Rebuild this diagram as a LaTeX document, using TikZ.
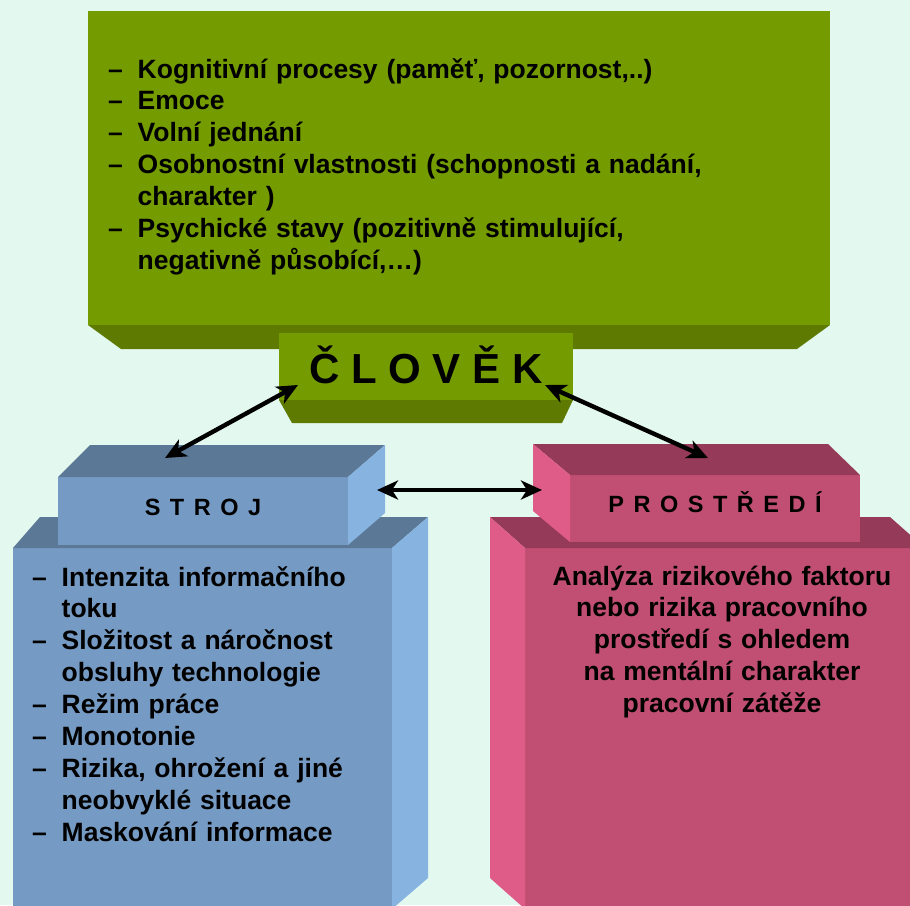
\documentclass[tikz,border=0pt]{standalone}
\usepackage{fontspec}
\setmainfont{Liberation Sans}
\usetikzlibrary{arrows.meta,calc}
\definecolor{bg}{HTML}{E3F8EF}
\definecolor{olivefront}{HTML}{749C00}
\definecolor{oliveshade}{HTML}{5E7A00}
\definecolor{steel}{HTML}{759AC3}
\definecolor{steeltop}{HTML}{5B7997}
\definecolor{steelside}{HTML}{86B3E0}
\definecolor{rose}{HTML}{C14F73}
\definecolor{rosetop}{HTML}{963A5A}
\definecolor{roseside}{HTML}{E05C88}
\newcommand{\itm}{\makebox[29.5pt][l]{\textendash}}
\newcommand{\cnt}{\hspace*{29.5pt}}

\begin{document}
\begin{tikzpicture}[x=1pt, y=-1pt,
      face/.style={rectangle, inner sep=0pt, outer sep=0pt},
      lbl/.style={font={\fontsize{23.5}{28}\selectfont\bfseries\spaceskip=9.5pt\relax},
                  text height=17pt, text depth=8.5pt},
      body/.style={font={\fontsize{26.5}{31.9}\selectfont\bfseries}, inner sep=0pt},
      dbl/.style={{Stealth[length=21pt,width=19pt,inset=6pt]}-{Stealth[length=21pt,width=19pt,inset=6pt]},
                  line width=4.4pt}
    ]
      \fill[bg] (0,0) rectangle (910,905);
      \useasboundingbox (0,0) rectangle (910,905);

      % lower blocks
      \node[face, fill=steel, minimum width=379pt, minimum height=361pt] (strojbox) at (202.5,728.5) {};
      \fill[steeltop] (strojbox.north west) -- ++(27,-31) -- ($(strojbox.north east)+(36,-31)$) -- (strojbox.north east) -- cycle;
      \fill[steelside] (strojbox.north east) -- ++(36,-31) -- ++(0,361) -- (strojbox.south east) -- cycle;

      \node[face, fill=rose, minimum width=400pt, minimum height=361pt] (prostrbox) at (725,728.5) {};
      \fill[rosetop] (prostrbox.north west) -- ++(-35,-31) -- ($(prostrbox.north east)+(-35,-31)$) -- (prostrbox.north east) -- cycle;
      \fill[roseside] (prostrbox.north west) -- ++(-35,-31) -- ++(0,361) -- (prostrbox.south west) -- cycle;

      % label blocks
      \node[face, lbl, fill=steel, minimum width=290pt, minimum height=68pt] (stroj) at (203,511) {S T R O J};
      \fill[steeltop] (stroj.north west) -- ++(32,-32) -- ($(stroj.north east)+(37,-32)$) -- (stroj.north east) -- cycle;
      \fill[steelside] (stroj.north east) -- ++(37,-32) -- ++(0,68) -- (stroj.south east) -- cycle;

      \node[face, lbl, fill=rose, minimum width=290pt, minimum height=67pt] (prostredi) at (715,508.5) {P R O S T Ř E D Í};
      \fill[rosetop] (prostredi.north west) -- ++(-37,-31) -- ($(prostredi.north east)+(-32,-31)$) -- (prostredi.north east) -- cycle;
      \fill[roseside] (prostredi.north west) -- ++(-37,-31) -- ++(0,67) -- (prostredi.south west) -- cycle;

      % top block
      \node[face, fill=olivefront, minimum width=742pt, minimum height=314pt] (psyche) at (459,168) {};
      \fill[oliveshade] (psyche.south west) -- (psyche.south east) -- ++(-33,24) -- ($(psyche.south west)+(33,24)$) -- cycle;
      \node[face, fill=olivefront, minimum width=294pt, minimum height=67pt,
            font={\fontsize{42}{50}\selectfont\bfseries}, text height=33pt, text depth=0pt] (clovek) at (426,366.5) {Č L O V Ě K};
      \fill[oliveshade] (clovek.south west) -- (clovek.south east) -- ++(-11,23) -- ($(clovek.south west)+(13,23)$) -- cycle;

      % texts
      \node[body, anchor=base west, text width=640pt, align=left] (psychelist) at (108,78) {
        \itm Kognitivní procesy (paměť, pozornost,..)\\
        \itm Emoce\\
        \itm Volní jednání\\
        \itm Osobnostní vlastnosti (schopnosti a nadání,\\
        \cnt charakter )\\
        \itm Psychické stavy (pozitivně stimulující,\\
        \cnt negativně působící,…)
      };
      \node[body, anchor=base west, text width=350pt, align=left] (strojlist) at (32,586) {
        \itm Intenzita informačního\\
        \cnt toku\\
        \itm Složitost a náročnost\\
        \cnt obsluhy technologie\\
        \itm Režim práce\\
        \itm Monotonie\\
        \itm Rizika, ohrožení a jiné\\
        \cnt neobvyklé situace\\
        \itm Maskování informace
      };
      \node[body, anchor=base, text width=390pt, align=center] (prostrtext) at (722,585) {
        Analýza rizikového faktoru\\
        nebo rizika pracovního\\
        prostředí s ohledem\\
        na mentální charakter\\
        pracovní zátěže
      };

      % links
      \draw[dbl] ($(clovek.south west)+(19,-15)$) -- ($(stroj.north west)+(107,-19)$);
      \draw[dbl] ($(clovek.south east)+(-28,-15)$) -- ($(prostredi.north west)+(138,-17)$);
      \draw[dbl] ($(stroj.east)+(29,-21)$) -- ($(prostredi.west)+(-28,-18.5)$);
    \end{tikzpicture}
\end{document}
